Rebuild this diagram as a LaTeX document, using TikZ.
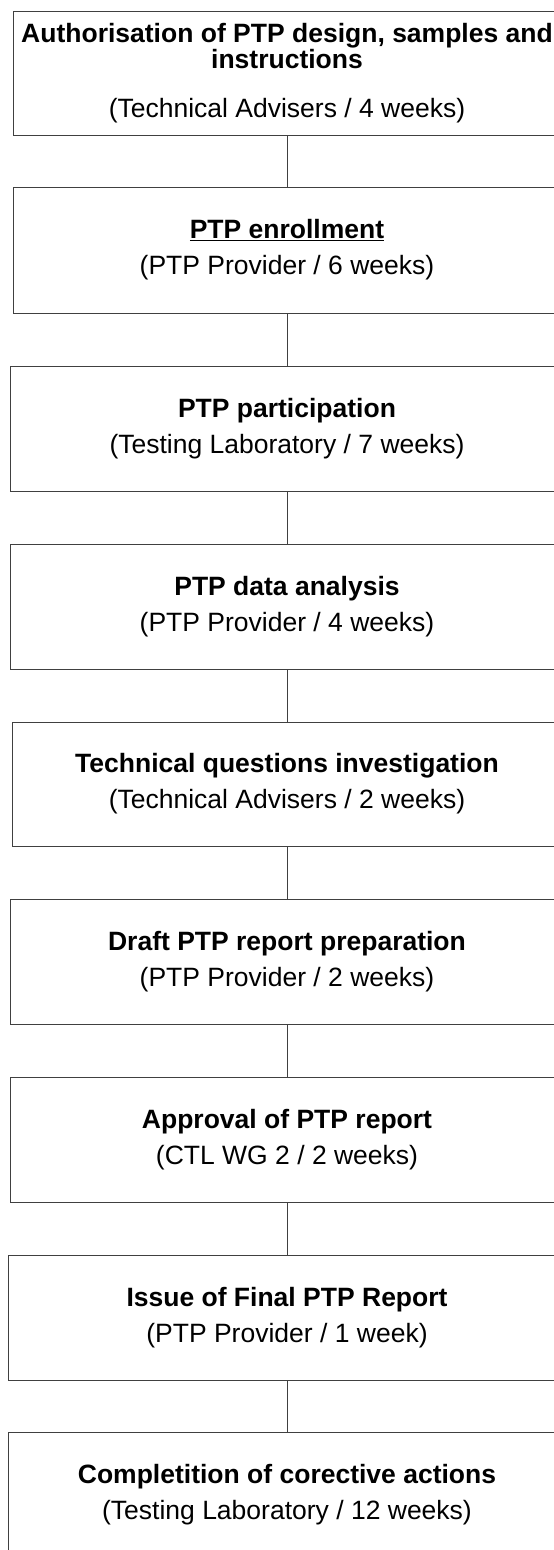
\documentclass[tikz,border=0pt]{standalone}
\usepackage{fontspec}
\setmainfont{Liberation Sans}
\tikzset{
	stage/.style={draw=black!75, line width=1pt, inner sep=0pt, align=center, font=\fontsize{26.5}{30}\selectfont},
	link/.style={draw=black!75, line width=1pt}
}

\begin{document}
\begin{tikzpicture}[x=1pt,y=-1pt]
				\useasboundingbox (0,0) rectangle (554,1550);
				
				\node[stage, minimum width=548pt, minimum height=124pt] (auth) at (287,73) {\textbf{Authorisation of PTP design, samples and}\\[-4pt]\textbf{instructions}\\[19pt](Technical Advisers / 4 weeks)};
				\node[stage, minimum width=548pt, minimum height=126pt] (enrol) at (287,250) {\textbf{\underline{PTP enrollment}}\\[6pt](PTP Provider / 6 weeks)};
				\node[stage, minimum width=554pt, minimum height=125pt] (partic) at (287,428.5) {\textbf{PTP participation}\\[6pt](Testing Laboratory / 7 weeks)};
				\node[stage, minimum width=554pt, minimum height=125pt] (analysis) at (287,606.5) {\textbf{PTP data analysis}\\[6pt](PTP Provider / 4 weeks)};
				\node[stage, minimum width=550pt, minimum height=124pt] (questions) at (287,784) {\textbf{Technical questions investigation}\\[6pt](Technical Advisers / 2 weeks)};
				\node[stage, minimum width=554pt, minimum height=125pt] (draft) at (287,961.5) {\textbf{Draft PTP report preparation}\\[6pt](PTP Provider / 2 weeks)};
				\node[stage, minimum width=554pt, minimum height=125pt] (approval) at (287,1139.5) {\textbf{Approval of PTP report}\\[6pt](CTL WG 2 / 2 weeks)};
				\node[stage, minimum width=558pt, minimum height=125pt] (issue) at (287,1317.5) {\textbf{Issue of Final PTP Report}\\[6pt](PTP Provider / 1 week)};
				\node[stage, minimum width=558pt, minimum height=125pt] (corrective) at (287,1494.5) {\textbf{Completition of corective actions}\\[6pt](Testing Laboratory / 12 weeks)};
				
				\draw[link] (auth) -- (enrol);
				\draw[link] (enrol) -- (partic);
				\draw[link] (partic) -- (analysis);
				\draw[link] (analysis) -- (questions);
				\draw[link] (questions) -- (draft);
				\draw[link] (draft) -- (approval);
				\draw[link] (approval) -- (issue);
				\draw[link] (issue) -- (corrective);
\end{tikzpicture}
\end{document}
